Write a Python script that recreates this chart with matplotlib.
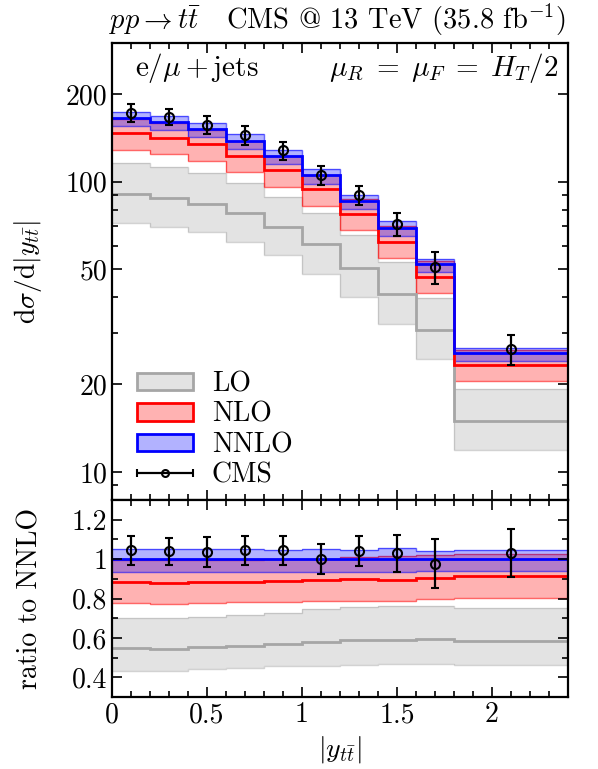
import matplotlib
matplotlib.use("Agg")
import matplotlib.pyplot as plt
import numpy as np
from matplotlib.patches import Patch
from matplotlib.container import ErrorbarContainer
from matplotlib.legend_handler import HandlerErrorbar
from matplotlib.ticker import FixedLocator, MultipleLocator, NullFormatter

plt.rcParams['font.family'] = ['cmr10', 'DejaVu Serif']
plt.rcParams['mathtext.fontset'] = 'cm'
plt.rcParams['axes.formatter.use_mathtext'] = True

# bin edges in |y_ttbar|
edges = [0.0, 0.2, 0.4, 0.6, 0.8, 1.0, 1.2, 1.4, 1.6, 1.8, 2.4]

# NNLO central value (absolute)
nnlo = [165.3, 160.6, 151.4, 138.4, 122.5, 104.9, 86.0, 69.3, 52.0, 25.6]

# everything else as ratio to NNLO central
nnlo_up = [1.051, 1.051, 1.050, 1.051, 1.048, 1.049, 1.048, 1.054, 1.043, 1.044]
nnlo_dn = [0.937, 0.937, 0.937, 0.937, 0.937, 0.937, 0.937, 0.934, 0.940, 0.940]
nlo = [0.886, 0.881, 0.886, 0.886, 0.891, 0.895, 0.898, 0.893, 0.905, 0.915]
nlo_up = [0.993, 0.993, 0.995, 0.997, 1.000, 1.003, 1.010, 1.014, 1.020, 1.026]
nlo_dn = [0.776, 0.772, 0.777, 0.781, 0.784, 0.786, 0.789, 0.787, 0.796, 0.804]
lo = [0.548, 0.546, 0.554, 0.561, 0.570, 0.580, 0.587, 0.590, 0.594, 0.583]
lo_up = [0.699, 0.699, 0.707, 0.716, 0.724, 0.745, 0.759, 0.760, 0.764, 0.752]
lo_dn = [0.434, 0.434, 0.442, 0.447, 0.456, 0.459, 0.464, 0.466, 0.469, 0.463]

# CMS data
cms_x = [0.1, 0.3, 0.5, 0.7, 0.9, 1.1, 1.3, 1.5, 1.7, 2.1]
cms = [172.6, 166.9, 157.0, 144.5, 127.9, 105.1, 89.7, 71.3, 50.8, 26.4]
cms_err = [11.9, 10.8, 11.4, 10.4, 9.1, 8.1, 6.5, 6.4, 6.4, 3.15]

nnlo_a = np.array(nnlo)
styles = [
    ('LO', lo, lo_up, lo_dn, '#a6a6a6', '#a6a6a6', 0.3),
    ('NLO', nlo, nlo_up, nlo_dn, 'red', 'red', 0.3),
    ('NNLO', [1.0] * 10, nnlo_up, nnlo_dn, 'blue', 'blue', 0.3),
]

fig = plt.figure(figsize=(5.98, 7.69), dpi=100)
ax1 = fig.add_axes([112 / 598, 1 - 500 / 769, 456 / 598, 457 / 769])
ax2 = fig.add_axes([112 / 598, 1 - 697 / 769, 456 / 598, 197 / 769])

for ax, scale in ((ax1, nnlo_a), (ax2, np.ones(10))):
    for name, c, up, dn, col, ecol, a in styles:
        up = np.array(up) * scale
        dn = np.array(dn) * scale
        fc = '#e3e3e3' if name == 'LO' else col
        fa = 1.0 if name == 'LO' else a
        ax.stairs(up, edges, baseline=dn, fill=True, color=fc, alpha=fa, lw=0)
        ea = 0.5 if name == 'LO' else 0.6
        ax.stairs(up, edges, baseline=None, color=ecol, alpha=ea, lw=1.0)
        ax.stairs(dn, edges, baseline=None, color=ecol, alpha=ea, lw=1.0)
    for name, c, up, dn, col, ecol, a in styles:
        c = np.array(c) * scale
        ax.stairs(c, edges, baseline=None, color=col, lw=2.0)

eb = dict(fmt='o', color='black', mfc='none', mec='black', ms=6.5, mew=1.5,
          elinewidth=1.6, capsize=3, capthick=1.6, zorder=5)
ax1.errorbar(cms_x, cms, yerr=cms_err, **eb)
ax2.errorbar(cms_x, np.array(cms) / nnlo_a, yerr=np.array(cms_err) / nnlo_a, **eb)

# axes setup
ax1.set_yscale('log')
ax1.set_ylim(8, 300)
ax1.yaxis.set_major_locator(FixedLocator([10, 20, 50, 100, 200]))
ax1.yaxis.set_minor_locator(FixedLocator([9, 30, 40, 60, 70, 80, 90, 300]))
ax1.yaxis.set_minor_formatter(NullFormatter())
ax1.set_yticklabels(['10', '20', '50', '100', '200'])
ax2.set_ylim(0.3, 1.3)
ax2.set_yticks([0.4, 0.6, 0.8, 1.0, 1.2])
ax2.set_yticklabels(['0.4', '0.6', '0.8', '1', '1.2'])
ax2.yaxis.set_minor_locator(MultipleLocator(0.1))

for ax in (ax1, ax2):
    ax.set_xlim(0, 2.4)
    ax.set_xticks([0, 0.5, 1.0, 1.5, 2.0])
    ax.xaxis.set_minor_locator(MultipleLocator(0.1))
    ax.tick_params(which='both', direction='in', top=True, right=True, labelsize=20, width=1.2)
    ax.tick_params(which='major', length=7)
    ax.tick_params(which='minor', length=4)
    for s in ax.spines.values():
        s.set_linewidth(1.6)
ax1.tick_params(labelbottom=False)
ax2.set_xticklabels(['0', '0.5', '1', '1.5', '2'])

ax1.set_ylabel(r'$\mathrm{d}\sigma/\mathrm{d}|y_{t\bar{t}}|$', fontsize=20)
ax2.set_ylabel('ratio to NNLO', fontsize=20)
ax2.set_xlabel(r'$|y_{t\bar{t}}|$', fontsize=20, labelpad=4)
ax1.yaxis.set_label_coords(-0.15, 0.5)
ax2.yaxis.set_label_coords(-0.15, 0.5)

fig.text(566 / 598, 1 - 20 / 769, r'$pp \to t\bar{t}$   CMS @ 13 TeV (35.8 fb$^{-1}$)',
         ha='right', va='center', fontsize=20.5)
ax1.text(0.05, 0.945, r'$\mathrm{e}/\mu + \mathrm{jets}$', transform=ax1.transAxes,
         ha='left', va='center', fontsize=21)
ax1.text(0.98, 0.945, r'$\mu_R \;=\; \mu_F \;=\; H_T/2$', transform=ax1.transAxes,
         ha='right', va='center', fontsize=21)

# legend
handles = [
    Patch(facecolor='#e3e3e3', edgecolor='#a6a6a6', lw=2),
    Patch(facecolor=(1, 0, 0, 0.3), edgecolor='red', lw=2),
    Patch(facecolor=(0, 0, 1, 0.3), edgecolor='blue', lw=2),
]
cms_h = ax1.errorbar([np.nan], [np.nan], xerr=[1], fmt='o', color='black', mfc='none',
                     ms=5, mew=1.5, elinewidth=1.6, capsize=3, capthick=1.6)
handles.append(cms_h)
ax1.legend(handles, ['LO', 'NLO', 'NNLO', 'CMS'], loc='lower left',
           bbox_to_anchor=(0.0, -0.03), frameon=False, fontsize=20,
           handlelength=2.0, handleheight=0.6, labelspacing=0.15, handletextpad=0.7,
           handler_map={ErrorbarContainer: HandlerErrorbar(xerr_size=1.0)})

fig.savefig('out.png', dpi=100)
